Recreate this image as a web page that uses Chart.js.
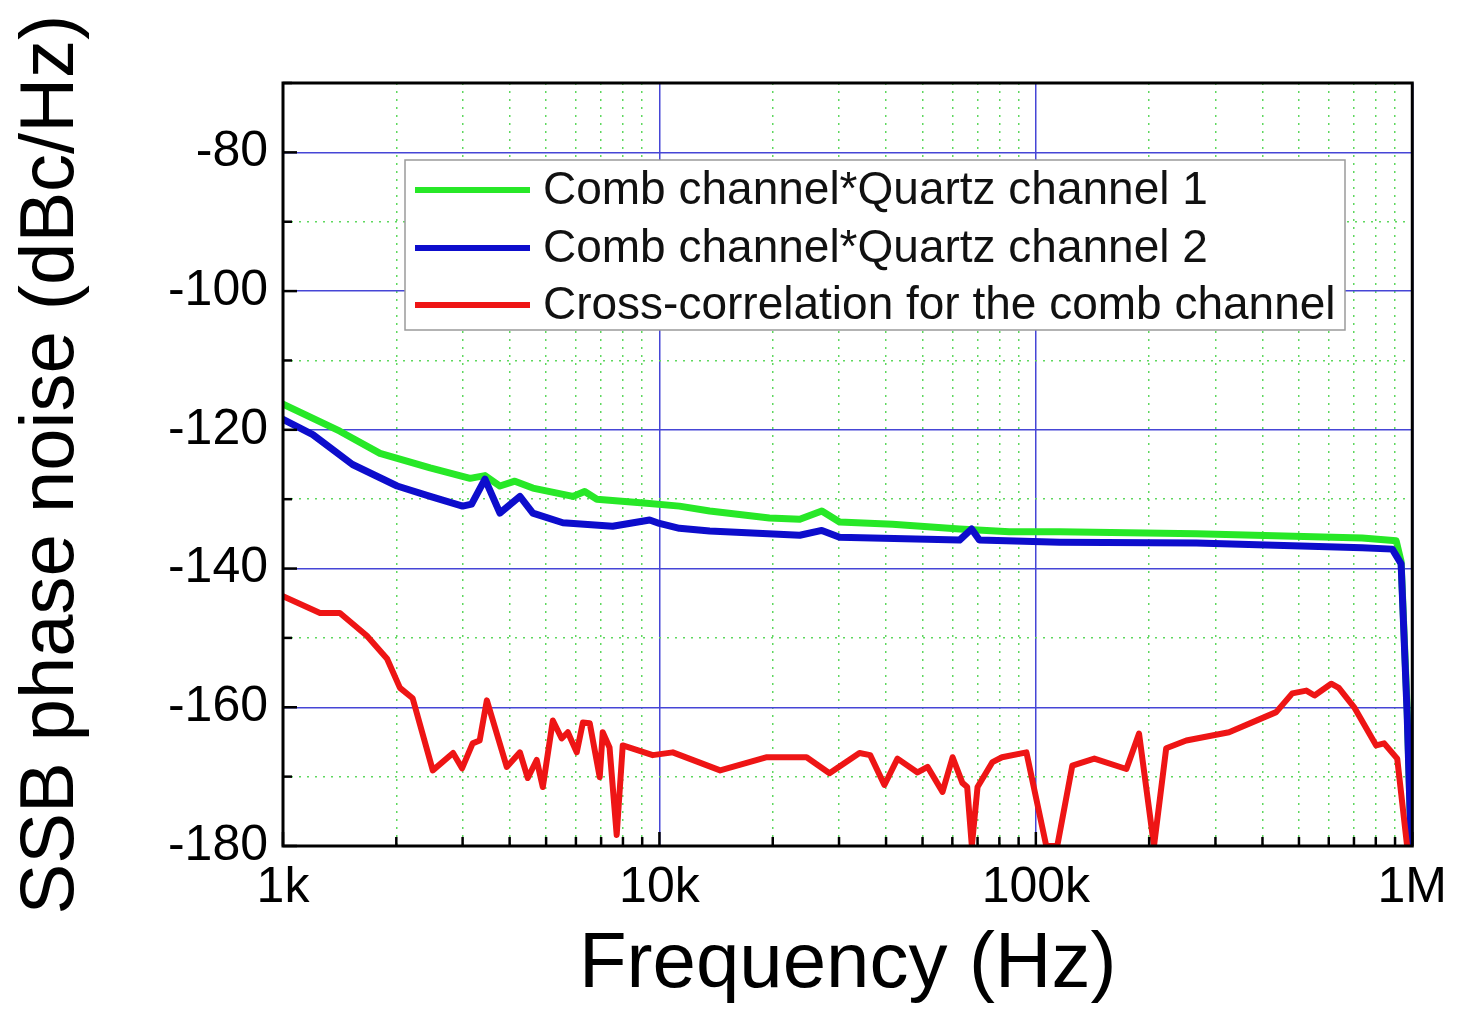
<!doctype html>
<html lang="en">
  <head>
    <meta charset="utf-8">
    <title>SSB phase noise</title>
    <style>
      html, body { margin: 0; padding: 0; background: #fff; }
      #wrap { width: 1459px; height: 1015px; position: relative; }
    </style>
  </head>
  <body>
    <div id="wrap">
      <canvas id="chart" width="1459" height="1015"></canvas>
    </div>

    <script src="https://cdn.jsdelivr.net/npm/chart.js"></script>

    <script>
      const seriesNames = [
        'Comb channel*Quartz channel 1',
        'Comb channel*Quartz channel 2',
        'Cross-correlation for the comb channel'
      ]

      const decadeValues = [1000, 10000, 100000, 1000000]
      const decadeLabels = ['1k', '10k', '100k', '1M']

      // Frequency (Hz) and SSB phase noise (dBc/Hz)
      const quartz1Freq = [1000, 1416, 1810, 2460, 3140, 3440, 3770, 4130, 4610, 5890, 6330, 6820, 9250, 11300,
        13600, 19600, 23600, 27000, 30100, 41600, 62700, 85000, 115600, 267000, 736000, 906000, 934000, 969000, 993000]
      const quartz1Noise = [-116.3, -120.2, -123.4, -125.5, -127.0, -126.6, -128.1, -127.4, -128.4, -129.6, -128.9, -130.0, -130.6, -131.0,
        -131.7, -132.7, -132.9, -131.7, -133.3, -133.6, -134.3, -134.7, -134.7, -135.0, -135.6, -136.0, -139.0, -160.0, -180.0]

      const quartz2Freq = [1000, 1200, 1530, 2010, 2460, 3000, 3170, 3440, 3770, 4260, 4610, 5540, 7510, 9420, 10000, 11300,
        13600, 23600, 27000, 30100, 62700, 67500, 70800, 115600, 267000, 736000, 885000, 934000, 969000, 993000]
      const quartz2Noise = [-118.5, -120.7, -125.0, -128.1, -129.6, -131.0, -130.7, -127.1, -132.0, -129.6, -132.0, -133.4, -133.9, -133.0, -133.5, -134.2,
        -134.6, -135.2, -134.5, -135.5, -135.9, -134.3, -135.9, -136.2, -136.3, -137.0, -137.2, -139.3, -160.9, -180.0]

      const crossFreq = [1000, 1254, 1416, 1670, 1890, 2045, 2210, 2500, 2830, 2990, 3190, 3330, 3480, 3930, 4260, 4470,
        4720, 4900, 5210, 5500, 5710, 6030, 6260, 6530, 6940, 7070, 7370, 7700, 7990, 9600, 10850, 14500, 19300, 24600,
        28300, 34000, 36300, 39600, 42900, 48500, 51600, 56500, 60100, 63800, 65700, 67600, 70000, 76700, 81300, 94400,
        106600, 114000, 125000, 143000, 174000, 188000, 206000, 222000, 251000, 326000, 435000, 480000, 523000, 550000,
        609000, 638000, 701000, 802000, 842000, 912000, 969000]
      const crossNoise = [-144.0, -146.4, -146.4, -149.7, -153.0, -157.2, -158.7, -169.1, -166.6, -168.8, -165.2, -164.8, -159.0, -168.6, -166.5, -170.2,
        -167.6, -171.5, -161.9, -164.5, -163.6, -166.5, -162.2, -162.3, -170.1, -163.6, -165.8, -178.4, -165.5, -166.9, -166.5, -169.1, -167.2, -167.2,
        -169.5, -166.6, -166.9, -171.2, -167.4, -169.4, -168.6, -172.2, -167.2, -170.9, -171.5, -180.0, -171.5, -167.9, -167.2, -166.5,
        -180.0, -180.0, -168.4, -167.4, -168.9, -163.8, -180.0, -165.9, -164.8, -163.6, -160.7, -158.0, -157.6, -158.3,
        -156.6, -157.2, -160.0, -165.5, -165.2, -167.4, -180.0]

      const FONT = "'Liberation Sans', Arial, sans-serif"
      const MAJOR_GRID = '#4646d6'
      const MINOR_GRID = '#5fd85f'
      const CLEAR = 'rgba(0,0,0,0)'

      const toPoints = (xs, ys) => xs.map((x, i) => ({ x, y: ys[i] }))

      // 1k..9k, 10k..90k, 100k..900k, 1M
      const logTicks = []
      decadeValues.forEach((d, i) => {
        if (i === decadeValues.length - 1) { logTicks.push(d); return }
        for (let m = 1; m < 10; m++) logTicks.push(d * m)
      })
      const isDecade = (v) => decadeValues.includes(v)

      const frameAndTicks = {
        id: 'frameAndTicks',
        afterDraw(chart) {
          const { ctx, chartArea: a, scales } = chart
          ctx.save()
          ctx.strokeStyle = '#000'
          ctx.lineWidth = 2.5
          scales.x.ticks.forEach((t) => {
            const px = scales.x.getPixelForValue(t.value)
            const len = isDecade(t.value) ? 14 : 9
            ctx.beginPath()
            ctx.moveTo(px, a.bottom)
            ctx.lineTo(px, a.bottom - len)
            ctx.stroke()
          })
          scales.y.ticks.forEach((t) => {
            const py = scales.y.getPixelForValue(t.value)
            const len = t.value % 20 === 0 ? 14 : 9
            ctx.beginPath()
            ctx.moveTo(a.left, py)
            ctx.lineTo(a.left + len, py)
            ctx.stroke()
          })
          ctx.lineWidth = 3
          ctx.strokeRect(a.left, a.top, a.right - a.left, a.bottom - a.top)
          ctx.restore()
        }
      }

      const boxLegend = {
        id: 'boxLegend',
        afterDraw(chart) {
          const { ctx } = chart
          const box = { x: 405, y: 160, w: 940, h: 170 }
          const rows = [190, 248, 305]
          ctx.save()
          ctx.fillStyle = '#fff'
          ctx.fillRect(box.x, box.y, box.w, box.h)
          ctx.strokeStyle = '#9a9a9a'
          ctx.lineWidth = 1.5
          ctx.strokeRect(box.x, box.y, box.w, box.h)
          ctx.font = '46px ' + FONT
          ctx.textBaseline = 'middle'
          chart.data.datasets.forEach((ds, i) => {
            ctx.strokeStyle = ds.borderColor
            ctx.lineWidth = 6
            ctx.beginPath()
            ctx.moveTo(415, rows[i])
            ctx.lineTo(530, rows[i])
            ctx.stroke()
            ctx.fillStyle = '#111'
            ctx.fillText(ds.label, 543, rows[i] + 1)
          })
          ctx.restore()
        }
      }

      new Chart(document.getElementById('chart'), {
        type: 'line',
        data: {
          datasets: [
            { label: seriesNames[0], data: toPoints(quartz1Freq, quartz1Noise), borderColor: '#27e827', borderWidth: 7, order: 2 },
            { label: seriesNames[1], data: toPoints(quartz2Freq, quartz2Noise), borderColor: '#0d0dcc', borderWidth: 7, order: 1 },
            { label: seriesNames[2], data: toPoints(crossFreq, crossNoise), borderColor: '#ee1515', borderWidth: 6, order: 0 }
          ]
        },
        options: {
          responsive: false,
          animation: false,
          elements: {
            point: { radius: 0, hoverRadius: 0 },
            line: { tension: 0, borderJoinStyle: 'round', borderCapStyle: 'round', fill: false }
          },
          layout: { padding: { top: 83, right: 46, bottom: 0, left: 0 } },
          plugins: {
            legend: { display: false },
            tooltip: { enabled: false }
          },
          scales: {
            x: {
              type: 'logarithmic',
              min: 1000,
              max: 1000000,
              afterBuildTicks: (s) => { s.ticks = logTicks.map((v) => ({ value: v })) },
              afterFit: (s) => { s.height = 169 },
              grid: {
                color: (c) => (isDecade(c.tick.value) ? MAJOR_GRID : CLEAR),
                lineWidth: 1.5,
                drawTicks: false
              },
              border: { display: false },
              ticks: {
                autoSkip: false,
                maxRotation: 0,
                padding: 12,
                color: '#000',
                font: { family: FONT, size: 50 },
                callback: (v) => {
                  const i = decadeValues.indexOf(v)
                  return i >= 0 ? decadeLabels[i] : ''
                }
              },
              title: {
                display: true,
                text: 'Frequency (Hz)',
                color: '#000',
                font: { family: FONT, size: 78 },
                padding: { top: 0, bottom: 3 }
              }
            },
            xMinor: {
              type: 'logarithmic',
              position: 'bottom',
              min: 1000,
              max: 1000000,
              afterBuildTicks: (s) => { s.ticks = logTicks.map((v) => ({ value: v })) },
              afterFit: (s) => { s.height = 0 },
              grid: {
                color: (c) => (isDecade(c.tick.value) ? CLEAR : MINOR_GRID),
                lineWidth: 1.5,
                drawTicks: false
              },
              border: { display: false, dash: [2, 6] },
              ticks: { display: false }
            },
            y: {
              type: 'linear',
              min: -180,
              max: -70,
              afterFit: (s) => { s.width = 283 },
              grid: {
                color: (c) => (c.tick.value % 20 === 0 ? MAJOR_GRID : CLEAR),
                lineWidth: 1.5,
                drawTicks: false
              },
              border: { display: false },
              ticks: {
                stepSize: 10,
                padding: 15,
                color: '#000',
                font: { family: FONT, size: 50 },
                callback: (v) => (v % 20 === 0 && v !== -70 ? String(v) : '')
              },
              title: {
                display: true,
                text: 'SSB phase noise (dBc/Hz)',
                color: '#000',
                font: { family: FONT, size: 76 },
                padding: { top: 6, bottom: 0 }
              }
            },
            yMinor: {
              type: 'linear',
              position: 'left',
              min: -180,
              max: -70,
              afterFit: (s) => { s.width = 0 },
              grid: {
                color: (c) => (c.tick.value % 20 === 0 ? CLEAR : MINOR_GRID),
                lineWidth: 1.5,
                drawTicks: false
              },
              border: { display: false, dash: [2, 6] },
              ticks: { display: false, stepSize: 10 }
            }
          }
        },
        plugins: [frameAndTicks, boxLegend]
      })
    </script>
  </body>
</html>
